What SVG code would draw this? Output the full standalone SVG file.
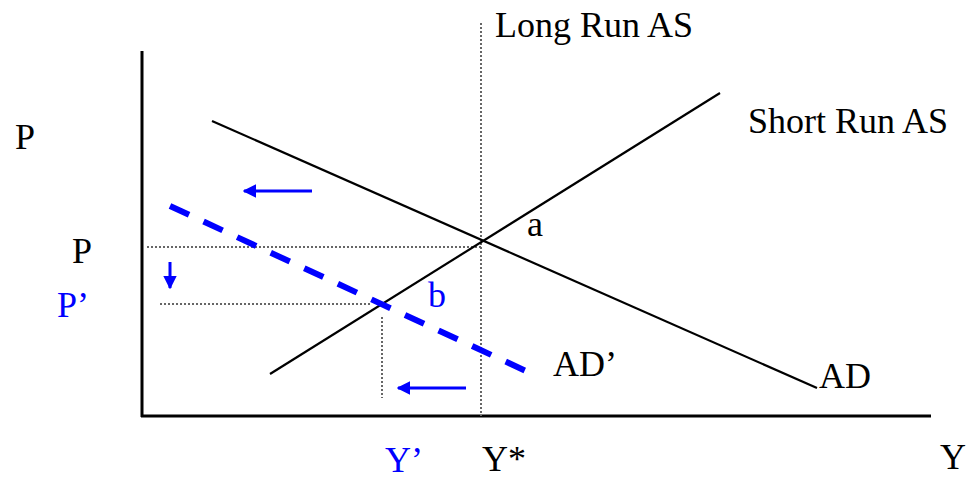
<svg xmlns="http://www.w3.org/2000/svg" width="968" height="480" viewBox="0 0 968 480">
<defs>
<style>
.t{font-family:"Liberation Serif","Times New Roman",serif;font-size:36px;fill:#000}
.b{fill:#0000ff}
.axis{stroke:#000;stroke-width:3;fill:none}
.curve{stroke:#000;stroke-width:2.2;fill:none}
.dot{stroke:#666;stroke-width:2;stroke-dasharray:2,2;fill:none}
.dash{stroke:#0000ff;stroke-width:6;stroke-dasharray:21,16;fill:none}
.arr{stroke:#0000ff;stroke-width:3;fill:none}
</style>
<marker id="ah" viewBox="0 0 10 10" refX="9" refY="5" markerWidth="4.5" markerHeight="4.5" orient="auto" markerUnits="strokeWidth">
<path d="M0,0 L10,5 L0,10 z" fill="#0000ff"/>
</marker>
</defs>
<rect width="968" height="480" fill="#fff"/>
<g id="axes">
<line class="axis" x1="142" y1="51" x2="142" y2="417"/>
<line class="axis" x1="141" y1="416" x2="931" y2="416"/>
</g>
<g id="connectors">
<line class="dot" x1="481" y1="23" x2="481" y2="416"/>
<line class="dot" x1="147" y1="247" x2="483" y2="247"/>
<line class="dot" x1="160" y1="304" x2="372" y2="304"/>
<line class="dot" x1="382" y1="317" x2="382" y2="398"/>
<line class="curve" x1="212" y1="121" x2="817" y2="388"/>
<line class="curve" x1="270" y1="374" x2="720" y2="93"/>
<line class="dash" x1="170" y1="206" x2="526" y2="371"/>
<line class="arr" x1="312" y1="191" x2="244" y2="191" marker-end="url(#ah)"/>
<line class="arr" x1="466" y1="388" x2="398" y2="388" marker-end="url(#ah)"/>
<line class="arr" x1="170" y1="262" x2="170" y2="288" marker-end="url(#ah)"/>
</g>
<g id="labels">
<text class="t" x="15" y="149">P</text>
<text class="t" x="495" y="37">Long Run AS</text>
<text class="t" x="748" y="133">Short Run AS</text>
<text class="t" x="527" y="236">a</text>
<text class="t" x="72" y="263">P</text>
<text class="t b" x="57" y="317">P’</text>
<text class="t b" x="428" y="307">b</text>
<text class="t" x="553" y="376">AD’</text>
<text class="t" x="819" y="388">AD</text>
<text class="t b" x="385" y="472">Y’</text>
<text class="t" x="482" y="471">Y*</text>
<text class="t" x="940" y="469">Y</text>
</g>
</svg>
